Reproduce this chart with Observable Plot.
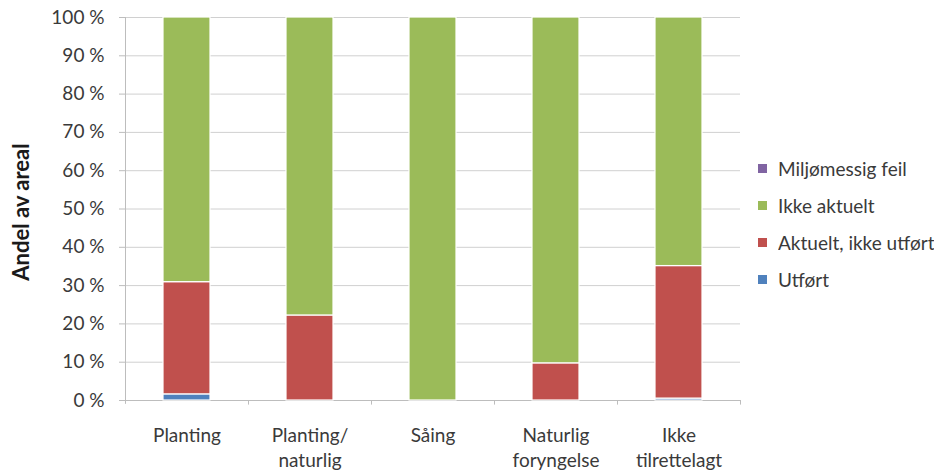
<!DOCTYPE html>
<html>
<head>
<meta charset="utf-8">
<script src="https://cdn.jsdelivr.net/npm/d3@7"></script>
<script src="https://cdn.jsdelivr.net/npm/@observablehq/plot@0.6"></script>
<style>
  html, body { margin: 0; padding: 0; background: #fff; }
  #wrap { position: relative; width: 939px; height: 470px; }
  #legend { position: absolute; left: 758px; top: 150px; }
  .lg-swatch { height: 36px; margin: 0 !important; }
  .lg-swatch svg { margin-right: 11px !important; }
</style>
</head>
<body>
<div id="wrap"><div id="chart"></div><div id="legend"></div></div>
<script>
// Treatment categories along the x axis and their two-line tick labels
const categories = ["Planting", "Planting/naturlig", "Såing", "Naturlig foryngelse", "Ikke tilrettelagt"];
const tickLabels = ["Planting", "Planting/\nnaturlig", "Såing", "Naturlig\nforyngelse", "Ikke\ntilrettelagt"];

// Stacked series, bottom to top (share of area, %)
const series = ["Utført", "Aktuelt, ikke utført", "Ikke aktuelt", "Miljømessig feil"];
const utfort        = [1.6, 0,    0,   0,    0.5];
const aktueltIkke   = [29.3, 22.2, 0,  9.7, 34.6];
const ikkeAktuelt   = [69.1, 77.8, 100, 90.3, 64.9];
const miljomessig   = [0,   0,    0,   0,    0];
const seriesColors  = ["#4F81BD", "#C0504D", "#9BBB59", "#8064A2"];

const yTicks = [0, 10, 20, 30, 40, 50, 60, 70, 80, 90, 100];

const values = [utfort, aktueltIkke, ikkeAktuelt, miljomessig];
const rows = [];
series.forEach((s, i) => {
  categories.forEach((c, j) => {
    if (values[i][j] > 0) rows.push({category: c, series: s, value: values[i][j]});
  });
});

const font = "Lato, 'Open Sans', sans-serif";
const textColor = "#3a3a3a";

const chart = Plot.plot({
  width: 939,
  height: 470,
  marginLeft: 125,
  marginRight: 199,
  marginTop: 17,
  marginBottom: 70,
  style: {fontFamily: font, fontSize: "19px", color: textColor, background: "#fff"},
  x: {domain: categories, paddingInner: 0.62, paddingOuter: 0.31, label: null},
  y: {domain: [0, 100], label: null},
  color: {domain: series, range: seriesColors},
  marks: [
    Plot.gridY(yTicks, {stroke: "#d0d0d0", strokeOpacity: 1}),
    Plot.axisY({
      ticks: yTicks, tickSize: 6, tickPadding: 15, stroke: "#bdbdbd",
      tickFormat: d => `${d} %`, fontSize: 19, fill: textColor, label: null
    }),
    Plot.axisX({
      tickSize: 0, tickPadding: 24, lineHeight: 1.3,
      tickFormat: d => tickLabels[categories.indexOf(d)], fontSize: 19, fill: textColor, label: null
    }),
    Plot.ruleX([categories[0]], {x: d => d, dx: -61.5, y1: -1, y2: 100, stroke: "#bdbdbd"}),
    Plot.ruleY([0], {stroke: "#bdbdbd"}),
    // small category-boundary ticks under the baseline
    Plot.ruleX(categories, {x: d => d, dx: 61.5, y1: 0, y2: -1.2, stroke: "#bdbdbd"}),
    Plot.barY(rows, {x: "category", y: "value", fill: "series", stroke: "#fff", strokeWidth: 1.2}),
    Plot.text(["Andel av areal"], {
      frameAnchor: "left", textAnchor: "middle", dx: -104, dy: 3, rotate: -90,
      fontWeight: "bold", fontSize: 22, fill: "#1a1a1a"
    })
  ]
});
document.getElementById("chart").appendChild(chart);

// Legend listed top to bottom in reverse stacking order
const legend = Plot.legend({
  color: {domain: series.slice().reverse(), range: seriesColors.slice().reverse()},
  columns: 1,
  swatchSize: 9,
  className: "lg",
  style: {fontFamily: font, fontSize: "19px", color: textColor}
});
document.getElementById("legend").appendChild(legend);
</script>
</body>
</html>
